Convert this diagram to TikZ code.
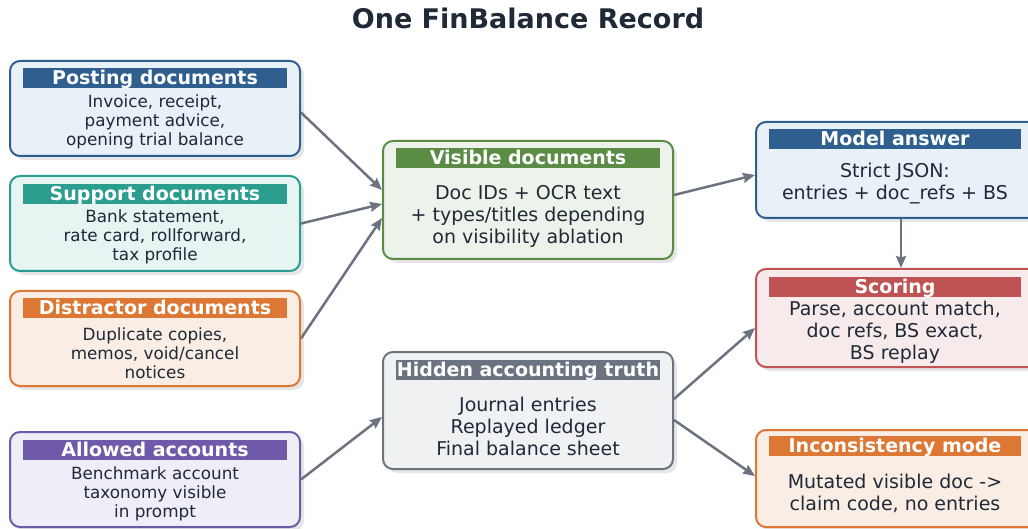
\documentclass[tikz,border=0pt]{standalone}
\usepackage{fontspec}
\setmainfont{DejaVu Sans}
\usetikzlibrary{arrows.meta,shadows}
\definecolor{txt}{HTML}{1F2937}
\definecolor{arrc}{HTML}{6B7280}
\definecolor{shadowc}{HTML}{E6E6E6}
\definecolor{blueb}{HTML}{2E5F8F}
\definecolor{bluef}{HTML}{E8F0F8}
\definecolor{tealb}{HTML}{2A9D8F}
\definecolor{tealf}{HTML}{E6F4F2}
\definecolor{orangeb}{HTML}{DD7734}
\definecolor{orangef}{HTML}{F9EDE4}
\definecolor{purpleb}{HTML}{6E5AA8}
\definecolor{purplef}{HTML}{EFEDF7}
\definecolor{greenb}{HTML}{5B8C46}
\definecolor{greenf}{HTML}{EDF3EA}
\definecolor{grayb}{HTML}{6B7280}
\definecolor{grayf}{HTML}{F0F1F3}
\definecolor{redb}{HTML}{BF5252}
\definecolor{redf}{HTML}{F7EAEA}
\tikzset{
  box/.style 2 args={draw=#1, fill=#2, line width=2pt, rounded corners=10pt,
    general shadow={fill=shadowc, shadow xshift=4pt, shadow yshift=-4pt},
    inner sep=0pt},
  hdr/.style={fill=#1, text=white, font=\bfseries\fontsize{19}{21}\selectfont,
    minimum height=20pt, text height=15.5pt, text depth=2.5pt, inner sep=0pt},
  body/.style={text=txt, align=center, font=\fontsize{16.8}{19}\selectfont, inner sep=0pt},
  bodyl/.style={text=txt, align=center, font=\fontsize{19}{22}\selectfont, inner sep=0pt},
  arr/.style={draw=arrc, line width=2.5pt, -{Stealth[length=12pt,width=10pt,inset=1.5pt]}}
}
\begin{document}
\begin{tikzpicture}[x=1pt,y=-1pt]
\useasboundingbox (0,0) rectangle (1028,529);
\node[font=\bfseries\fontsize{27}{30}\selectfont, text=txt] (title) at (528,18) {One FinBalance Record};

% left column
\node[box={blueb}{bluef}, minimum width=290pt, minimum height=95pt] (post) at (155,108.5) {};
\node[hdr=blueb, minimum width=264pt] (posth) at (155,78) {Posting documents};
\node[body] (postb) at (155,122) {Invoice, receipt,\\payment advice,\\opening trial balance};

\node[box={tealb}{tealf}, minimum width=290pt, minimum height=95pt] (supp) at (155,223.5) {};
\node[hdr=tealb, minimum width=264pt] (supph) at (155,194) {Support documents};
\node[body] (suppb) at (155,236.5) {Bank statement,\\rate card, rollforward,\\tax profile};

\node[box={orangeb}{orangef}, minimum width=290pt, minimum height=95pt] (dist) at (155,338.5) {};
\node[hdr=orangeb, minimum width=264pt] (disth) at (155,308.5) {Distractor documents};
\node[body] (distb) at (155,353) {Duplicate copies,\\memos, void/cancel\\notices};

\node[box={purpleb}{purplef}, minimum width=290pt, minimum height=95pt] (allow) at (155,479.5) {};
\node[hdr=purpleb, minimum width=264pt] (allowh) at (155,450) {Allowed accounts};
\node[body] (allowb) at (155,494) {Benchmark account\\taxonomy visible\\in prompt};

% middle column
\node[box={greenb}{greenf}, minimum width=290pt, minimum height=118pt] (vis) at (528,200) {};
\node[hdr=greenb, minimum width=264pt] (vish) at (528,158) {Visible documents};
\node[bodyl] (visb) at (528,216.5) {Doc IDs + OCR text\\+ types/titles depending\\on visibility ablation};

\node[box={grayb}{grayf}, minimum width=290pt, minimum height=117pt] (hid) at (528,410.5) {};
\node[hdr=grayb, minimum width=264pt] (hidh) at (528,370) {Hidden accounting truth};
\node[bodyl] (hidb) at (528,426.5) {Journal entries\\Replayed ledger\\Final balance sheet};

% right column
\node[box={blueb}{bluef}, minimum width=290pt, minimum height=96pt] (model) at (901,170) {};
\node[hdr=blueb, minimum width=252pt] (modelh) at (895,139) {Model answer};
\node[bodyl] (modelb) at (895,184) {Strict JSON:\\entries + doc\_refs + BS};

\node[box={redb}{redf}, minimum width=290pt, minimum height=98pt] (score) at (901,318) {};
\node[hdr=redb, minimum width=252pt] (scoreh) at (895,287) {Scoring};
\node[bodyl] (scoreb) at (895,332.5) {Parse, account match,\\doc refs, BS exact,\\BS replay};

\node[box={orangeb}{orangef}, minimum width=290pt, minimum height=97pt] (inc) at (901,478.5) {};
\node[hdr=orangeb, minimum width=252pt] (inch) at (895,446) {Inconsistency mode};
\node[bodyl] (incb) at (895,493.5) {Mutated visible doc ->\\claim code, no entries};

% connectors
\draw[arr] ([yshift=-4pt]post.east) -- ([yshift=10pt]vis.west);
\draw[arr] (supp.east) -- ([yshift=-4pt]vis.west);
\draw[arr] (dist.east) -- ([yshift=-18pt]vis.west);
\draw[arr] (allow.east) -- ([yshift=-6.5pt]hid.west);
\draw[arr] ([yshift=5pt]vis.east) -- ([yshift=-5pt]model.west);
\draw[arr] (model.south) -- (score.north);
\draw[arr] ([yshift=11.5pt]hid.east) -- ([yshift=-10pt]score.west);
\draw[arr] ([yshift=-9.5pt]hid.east) -- ([yshift=2.5pt]inc.west);
\end{tikzpicture}
\end{document}
